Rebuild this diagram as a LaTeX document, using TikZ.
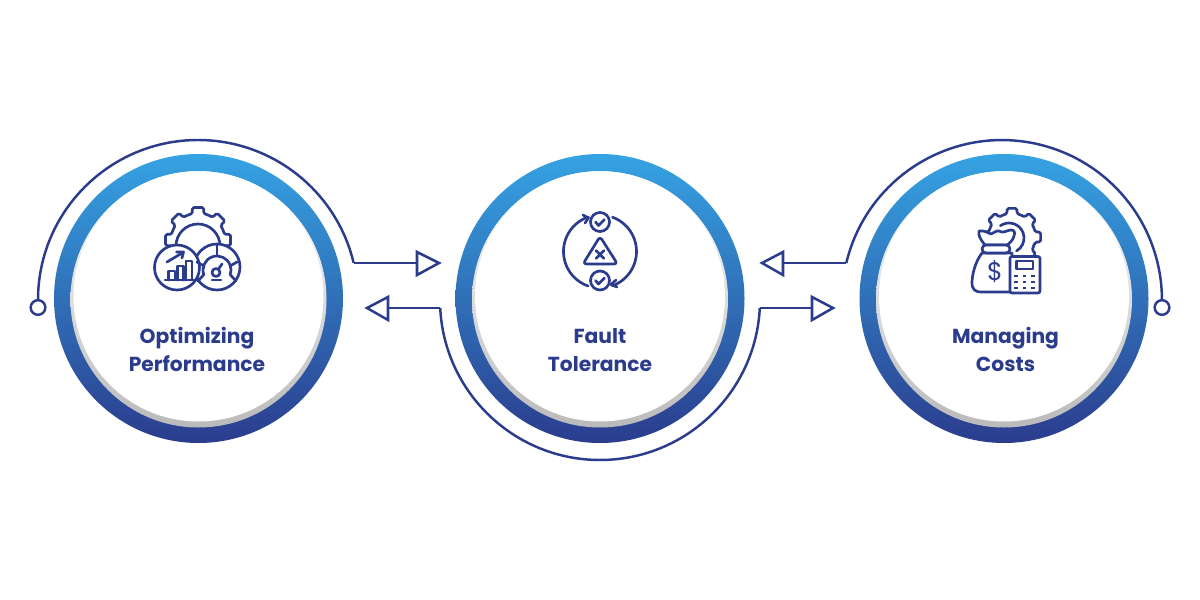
\documentclass[tikz,border=0pt]{standalone}
\usepackage{fontspec}
\setmainfont{Poppins}
\definecolor{ringblue}{RGB}{43,60,141}
\definecolor{ringmid}{RGB}{46,112,184}
\definecolor{ringsky}{RGB}{53,163,227}
\tikzset{
	every picture/.style={line width=0.75pt},
	flowline/.style={draw=ringblue,line width=1.85pt},
	iconline/.style={draw=ringblue,line width=2pt,line join=round,line cap=round},
	headbox/.style={draw=ringblue,line width=1.9pt,fill=white,line join=miter},
	enddot/.style={circle,draw=ringblue,line width=1.85pt,fill=white,minimum size=11pt,inner sep=0pt},
	steplabel/.style={text=ringblue,font=\bfseries\fontsize{15.2}{21}\selectfont,align=center},
	geartooth/.pic={
		\draw [iconline,fill=white,rounded corners=1.2pt] (-22.5:27)
		\foreach \a in {0,45,...,315} { -- (\a-12:27) -- (\a-10:33) -- (\a+10:33) -- (\a+12:27) -- (\a+22.5:27) } -- cycle ;
	}
}
\begin{document}
\begin{tikzpicture}[x=0.75pt,y=0.75pt,yscale=-1,xscale=1]
	\useasboundingbox (0,0) rectangle (1200,600);

	%Rings
	\foreach \cx in {198.5,600,1004} {
		\shade [top color=ringsky,middle color=ringmid,bottom color=ringblue,even odd rule] (\cx,298.5) circle (144.5) (\cx,298.5) circle (127.5);
		\shade [top color=white,bottom color=black!27] (\cx,299.5) circle (128);
		\fill [white] (\cx,296.5) circle (125);
	}

	%Connector ends
	\coordinate (startL) at (38,301);
	\coordinate (outL) at (353.7,263);
	\coordinate (tipA) at (417,263);
	\coordinate (outC) at (440.2,308);
	\coordinate (tipB) at (388,308);
	\coordinate (backC) at (759.8,308);
	\coordinate (tipC) at (812,308);
	\coordinate (outR) at (846.3,263);
	\coordinate (tipD) at (783,263);
	\coordinate (startR) at (1162,301);

	%Outer arcs
	\draw [flowline] (startL) -- (38,300) arc [start angle=180,end angle=346.6,radius=160];
	\draw [flowline] (outC) arc [start angle=177.13,end angle=2.87,radius=160];
	\draw [flowline] (outR) arc [start angle=193.4,end angle=360,radius=160] -- (startR);

	%Dots
	\node (dotL) [enddot] at (38,307.5) {};
	\node (dotR) [enddot] at (1162,307.5) {};

	%Connectors and heads
	\draw [flowline] (outL) -- (tipA);
	\draw [headbox] (417,252) -- (439,263) -- (417,275) -- cycle;
	\draw [flowline] (outC) -- (tipB);
	\draw [headbox] (388,297) -- (367,308) -- (388,320) -- cycle;
	\draw [flowline] (backC) -- (tipC);
	\draw [headbox] (812,297) -- (833,308) -- (812,320) -- cycle;
	\draw [flowline] (outR) -- (tipD);
	\draw [headbox] (783,252) -- (762,263) -- (783,275) -- cycle;

	%Icon: gear and dials
	\pic at (198,240) {geartooth};
	\draw [iconline] (176,246) arc [start angle=180,end angle=360,radius=22];
	\draw [iconline,fill=white] (217,267) circle (23);
	\draw [iconline,fill=white] (177,267.5) circle (22.5);
	\draw [iconline] (165,280) -- (196,280);
	\draw [iconline] (168.5,280) -- (168.5,271) -- (175,271) -- (175,280);
	\draw [iconline] (177.5,280) -- (177.5,266) -- (183.5,266) -- (183.5,280);
	\draw [iconline] (186,280) -- (186,261) -- (192,261) -- (192,280);
	\draw [iconline] (167,262) -- (183,252.5);
	\draw [iconline] (176.5,252) -- (183.5,252) -- (182,258);
	\draw [iconline] ([shift={(217,270)}]160:14) arc [start angle=160,end angle=380,radius=14];
	\draw [iconline] (217,245) -- (217,256);
	\draw [iconline] (197,262) -- (204,266);
	\draw [iconline] (237,262) -- (230,266);
	\draw [iconline] (203.5,275) -- (198,281);
	\draw [iconline] (230.5,275) -- (236,281);
	\draw [iconline] (216,272.5) circle (4);
	\draw [iconline] (218.5,269) -- (222,264);
	\draw [iconline] (212,280) -- (221,280);

	%Icon: fault cycle
	\draw [iconline] ([shift={(600,251.5)}]-109:36.5) arc [start angle=-109,end angle=-251,radius=36.5];
	\draw [iconline] ([shift={(600,251.5)}]-70:36.5) arc [start angle=-70,end angle=70,radius=36.5];
	\draw [iconline] (583,215) -- (588.5,218) -- (585,223);
	\draw [iconline] (616,280) -- (611,284.5) -- (617,287);
	\draw [iconline] (600,222) circle (9.5);
	\draw [iconline] (600,280.5) circle (9.5);
	\draw [iconline] (595.5,222) -- (598.5,225.5) -- (604.5,219.5);
	\draw [iconline] (595.5,280.5) -- (598.5,284) -- (604.5,278);
	\draw [iconline,rounded corners=2.5pt] (600,236.5) -- (617.5,264) -- (583,264) -- cycle;
	\draw [iconline] (596,250.5) -- (604,258.5);
	\draw [iconline] (604,250.5) -- (596,258.5);

	%Icon: money bag and calculator
	\pic [scale=0.88] at (1012,237) {geartooth};
	\draw [iconline] ([shift={(1009,238)}]235:15) arc [start angle=235,end angle=420,radius=15];
	\draw [iconline,fill=white] (982,253) .. controls (975,262) and (972,275) .. (972,283) .. controls (972,290) and (976,292) .. (981,292) -- (1012,292) -- (1012,253) -- cycle;
	\draw [iconline,fill=white] (985,245) .. controls (980,239) and (978,235) .. (979,231) .. controls (984,230) and (988,233) .. (991,234) .. controls (994,233) and (997,230) .. (999,231) .. controls (1003,234) and (1007,230) .. (1011,230) .. controls (1015,230) and (1015,233) .. (1014,236) .. controls (1013,240) and (1010,243) .. (1007,245) -- cycle;
	\draw [iconline,fill=white,rounded corners=3pt] (982,245) rectangle (1010,253);
	\node (dollar) [text=ringblue,font=\fontsize{19}{19}\selectfont] at (995,272) {\$};
	\draw [iconline,fill=white,rounded corners=1.5pt] (1010,256.5) rectangle (1040,293);
	\draw [iconline] (1016.5,261) rectangle (1033,269);
	\foreach \bx in {1016,1024.5,1033} {
		\foreach \by in {276,282,288} {
			\fill [ringblue] (\bx-1.7,\by-1) rectangle (\bx+1.7,\by+1);
		}
	}

	%Labels
	\node (perfLabel) [steplabel] at (197,349) {Optimizing\\Performance};
	\node (faultLabel) [steplabel] at (600,350) {Fault\\Tolerance};
	\node (costLabel) [steplabel] at (1005.5,349) {Managing\\Costs};
\end{tikzpicture}
\end{document}
